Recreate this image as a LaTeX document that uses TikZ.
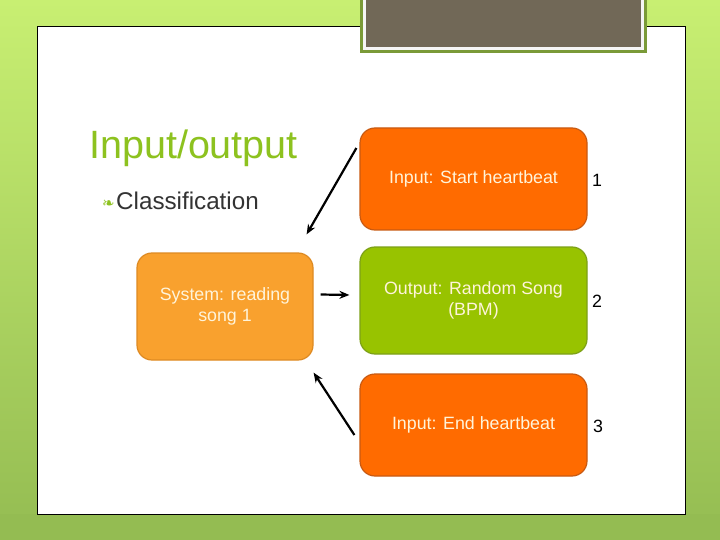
\documentclass[tikz,border=0pt]{standalone}
\usepackage{fontspec}
\setmainfont{Liberation Sans}
\newfontfamily\symfont{DejaVu Sans}
\usetikzlibrary{arrows.meta}

\definecolor{bgtop}{HTML}{C8EF72}
\definecolor{bgbot}{HTML}{94BC52}
\definecolor{titlegreen}{HTML}{8DC21F}
\definecolor{framegreen}{HTML}{7A9A38}
\definecolor{taupe}{HTML}{716857}
\definecolor{lightorange}{HTML}{F9A12E}
\definecolor{lightorangeb}{HTML}{DE8A22}
\definecolor{darkorange}{HTML}{FF6B00}
\definecolor{darkorangeb}{HTML}{C85A12}
\definecolor{limegreen}{HTML}{98C300}
\definecolor{limegreenb}{HTML}{7DA018}
\definecolor{boxtext}{HTML}{FFF4DA}

\begin{document}
\begin{tikzpicture}[x=1pt,y=-1pt,
  box/.style={draw,line width=1.2pt,rounded corners=15pt,align=center,
    text=boxtext,font=\fontsize{17.8}{21}\selectfont,inner sep=0pt},
  num/.style={font=\fontsize{17.8}{21}\selectfont},
  arr/.style={line width=2.2pt,-{Stealth[length=10pt,width=8pt]}}]

\useasboundingbox (0,0) rectangle (720,540);

% slide background
\shade[top color=bgtop,bottom color=bgbot] (0,0) rectangle (720,540);
\fill[bgbot] (0,514) rectangle (720,540);
\draw[fill=white,line width=0.8pt] (37,26) rectangle (685,514);
\fill[framegreen] (360,0) rectangle (647,53);
\fill[white!96!black] (363,0) rectangle (644,50);
\fill[taupe] (366,0) rectangle (641,47);

\node[anchor=base west,inner sep=0pt,text=titlegreen,
  font=\fontsize{39.5}{44}\selectfont] (title) at (89,159) {Input/output};

\node[anchor=base west,inner sep=0pt,text=black!80,
  font=\fontsize{24.2}{28}\selectfont] (cls) at (116,210) {Classification};

\node[anchor=base east,inner sep=0pt,text=titlegreen,
  font=\symfont\fontsize{15}{16}\selectfont] (bul) at (115,208) {❧};

\node[box,fill=lightorange,draw=lightorangeb,minimum width=176pt,
  minimum height=107pt] (sys) at (225,306.5) {System: reading\\song 1};

\node[box,fill=darkorange,draw=darkorangeb,minimum width=227pt,
  minimum height=102pt] (start) at (473.5,179) {Input: Start heartbeat};

\node[box,fill=limegreen,draw=limegreenb,minimum width=227pt,
  minimum height=107pt] (out) at (473.5,300.5) {Output: Random Song\\(BPM)};

\node[box,fill=darkorange,draw=darkorangeb,minimum width=227pt,
  minimum height=102pt] (end) at (473.5,425) {Input: End heartbeat};

\node[num] (n1) at (597,180) {1};

\node[num] (n2) at (597,301) {2};

\node[num] (n3) at (598,426) {3};

\draw[arr] ([xshift=-3pt,yshift=31pt]start.west) -- ([xshift=-7pt,yshift=18pt]sys.north east);
\draw[arr] ([xshift=7pt,yshift=12pt]sys.east) -- ([xshift=-10pt,yshift=5.5pt]out.west);
\draw[arr] ([xshift=-5pt,yshift=-10pt]end.west) -- ([yshift=-12pt]sys.south east);

\end{tikzpicture}
\end{document}
